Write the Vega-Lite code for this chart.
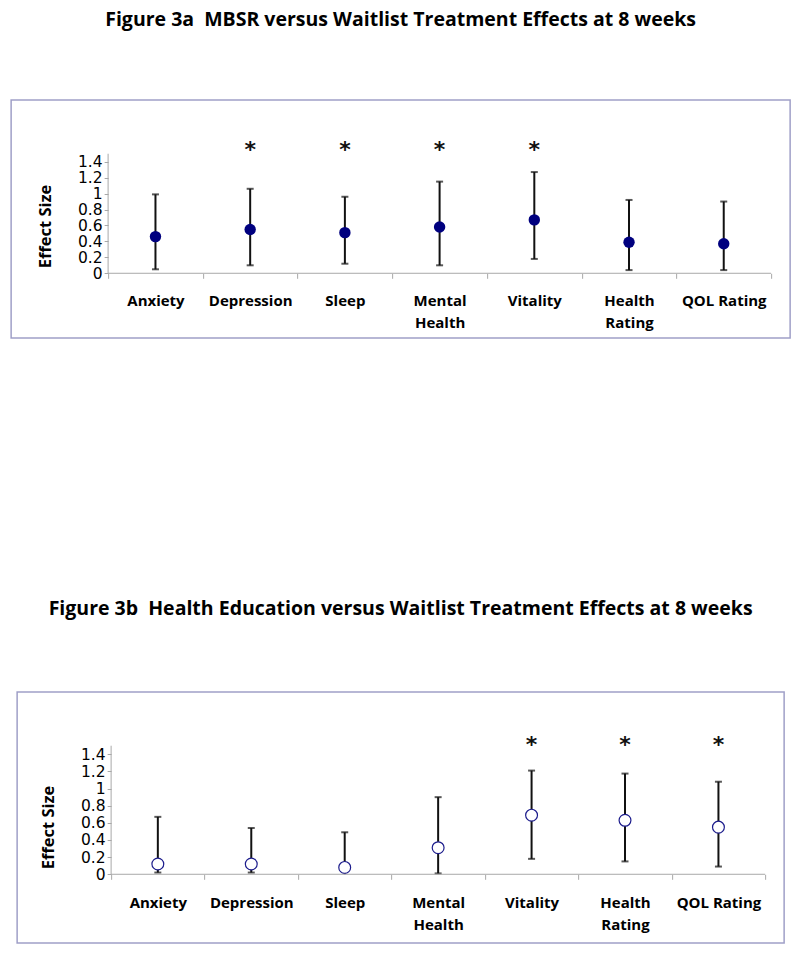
{
  "$schema": "https://vega.github.io/schema/vega-lite/v6.json",
  "background": "white",
  "padding": {"left": 10, "top": 8, "right": 5, "bottom": 5},
  "autosize": {"type": "pad"},
  "center": true,
  "spacing": 258,
  "config": {
    "view": {"stroke": "#a0a0c8", "strokeWidth": 1.5},
    "title": {"font": "Open Sans", "fontWeight": "bold", "fontSize": 19.5, "color": "black", "baseline": "alphabetic", "anchor": "middle"},
    "axis": {"grid": false, "labelOverlap": false, "labelFlush": false, "labelBound": false}
  },
  "datasets": {
    "mbsr": [
      {"cat": "Anxiety", "idx": 1, "est": 0.46, "lo": 0.05, "hi": 0.99, "sig": false},
      {"cat": "Depression", "idx": 2, "est": 0.55, "lo": 0.10, "hi": 1.06, "sig": true},
      {"cat": "Sleep", "idx": 3, "est": 0.51, "lo": 0.12, "hi": 0.96, "sig": true},
      {"cat": "Mental Health", "idx": 4, "est": 0.58, "lo": 0.10, "hi": 1.15, "sig": true},
      {"cat": "Vitality", "idx": 5, "est": 0.67, "lo": 0.18, "hi": 1.27, "sig": true},
      {"cat": "Health Rating", "idx": 6, "est": 0.39, "lo": 0.04, "hi": 0.92, "sig": false},
      {"cat": "QOL Rating", "idx": 7, "est": 0.37, "lo": 0.04, "hi": 0.90, "sig": false}
    ],
    "he": [
      {"cat": "Anxiety", "idx": 1, "est": 0.12, "lo": 0.02, "hi": 0.67, "sig": false},
      {"cat": "Depression", "idx": 2, "est": 0.12, "lo": 0.02, "hi": 0.54, "sig": false},
      {"cat": "Sleep", "idx": 3, "est": 0.08, "lo": 0.0, "hi": 0.49, "sig": false},
      {"cat": "Mental Health", "idx": 4, "est": 0.31, "lo": 0.01, "hi": 0.90, "sig": false},
      {"cat": "Vitality", "idx": 5, "est": 0.69, "lo": 0.18, "hi": 1.21, "sig": true},
      {"cat": "Health Rating", "idx": 6, "est": 0.63, "lo": 0.15, "hi": 1.175, "sig": true},
      {"cat": "QOL Rating", "idx": 7, "est": 0.55, "lo": 0.09, "hi": 1.08, "sig": true}
    ]
  },
  "vconcat": [
    {
      "width": 779,
      "height": 238,
      "title": {"text": "Figure 3a\u00a0 MBSR versus Waitlist Treatment Effects at 8 weeks", "offset": 70},
      "data": {"name": "mbsr"},
      "layer": [
        {
          "mark": {"type": "rule", "color": "#111111", "strokeWidth": 2},
          "encoding": {
            "x": {"field": "idx", "type": "quantitative",
              "scale": {"domain": [-0.524, 7.701], "nice": false, "zero": false},
              "axis": {"values": [0.5, 1, 1.5, 2, 2.5, 3, 3.5, 4, 4.5, 5, 5.5, 6, 6.5, 7, 7.5], "tickCount": 40, "domain": false, "offset": -64.7, "tickSize": 5, "tickColor": "#a8a8a8",
                "tickOpacity": {"condition": {"test": "datum.value % 1 != 0", "value": 1}, "value": 0},
                "labelExpr": "datum.value == 1 ? 'Anxiety' : datum.value == 2 ? 'Depression' : datum.value == 3 ? 'Sleep' : datum.value == 4 ? ['Mental','Health'] : datum.value == 5 ? 'Vitality' : datum.value == 6 ? ['Health','Rating'] : datum.value == 7 ? 'QOL Rating' : ''",
                "labelFont": "Open Sans", "labelFontWeight": "bold", "labelFontSize": 15, "labelColor": "black", "labelPadding": 15, "labelBaseline": "top", "labelLineHeight": 22, "labelOverlap": false, "labelFlush": false, "title": null}},
            "y": {"field": "lo", "type": "quantitative",
              "scale": {"domain": [-0.812, 2.174], "nice": false, "zero": false},
              "axis": {"values": [0, 0.2, 0.4, 0.6, 0.8, 1, 1.2, 1.4], "tickCount": 40, "format": ".1~f", "domain": false, "offset": -97, "tickSize": 4, "tickColor": "#a8a8a8",
                "labelFont": "DejaVu Sans", "labelFontSize": 15.5, "labelColor": "black", "labelPadding": 2, "labelOverlap": false, "labelFlush": false,
                "title": "Effect Size", "titleFont": "Open Sans", "titleFontWeight": "bold", "titleFontSize": 16.5, "titleColor": "black", "titlePadding": 24, "titleY": 126}},
            "y2": {"field": "hi"}
          }
        },
        {
          "transform": [{"filter": "datum.lo > 0"}],
          "mark": {"type": "tick", "orient": "horizontal", "color": "#111111", "size": 7, "thickness": 2},
          "encoding": {
            "x": {"field": "idx", "type": "quantitative"},
            "y": {"field": "lo", "type": "quantitative"}
          }
        },
        {
          "mark": {"type": "tick", "orient": "horizontal", "color": "#111111", "size": 7, "thickness": 2},
          "encoding": {
            "x": {"field": "idx", "type": "quantitative"},
            "y": {"field": "hi", "type": "quantitative"}
          }
        },
        {
          "mark": {"type": "circle", "color": "#00007f", "opacity": 1, "size": 130},
          "encoding": {
            "x": {"field": "idx", "type": "quantitative"},
            "y": {"field": "est", "type": "quantitative"}
          }
        },
        {
          "transform": [{"filter": "datum.sig"}],
          "mark": {"type": "text", "text": "*", "font": "DejaVu Sans", "fontWeight": "bold", "fontSize": 22, "color": "#111111", "baseline": "alphabetic"},
          "encoding": {
            "x": {"field": "idx", "type": "quantitative"},
            "y": {"datum": 1.46, "type": "quantitative"}
          }
        },
        {
          "data": {"values": [{}]},
          "mark": {"type": "rule", "color": "#a8a8a8", "strokeWidth": 1},
          "encoding": {
            "x": {"datum": 0.5, "type": "quantitative"},
            "y": {"datum": 0, "type": "quantitative"},
            "y2": {"datum": 1.5}
          }
        },
        {
          "data": {"values": [{}]},
          "mark": {"type": "rule", "color": "#a8a8a8", "strokeWidth": 1},
          "encoding": {
            "x": {"datum": 0.5, "type": "quantitative"},
            "x2": {"datum": 7.5},
            "y": {"datum": 0, "type": "quantitative"}
          }
        }
      ]
    },
    {
      "width": 767,
      "height": 251,
      "title": {"text": "Figure 3b\u00a0 Health Education versus Waitlist Treatment Effects at 8 weeks", "offset": 73},
      "data": {"name": "he"},
      "layer": [
        {
          "mark": {"type": "rule", "color": "#111111", "strokeWidth": 2},
          "encoding": {
            "x": {"field": "idx", "type": "quantitative",
              "scale": {"domain": [-0.506, 7.703], "nice": false, "zero": false},
              "axis": {"values": [0.5, 1, 1.5, 2, 2.5, 3, 3.5, 4, 4.5, 5, 5.5, 6, 6.5, 7, 7.5], "tickCount": 40, "domain": false, "offset": -68.7, "tickSize": 5, "tickColor": "#a8a8a8",
                "tickOpacity": {"condition": {"test": "datum.value % 1 != 0", "value": 1}, "value": 0},
                "labelExpr": "datum.value == 1 ? 'Anxiety' : datum.value == 2 ? 'Depression' : datum.value == 3 ? 'Sleep' : datum.value == 4 ? ['Mental','Health'] : datum.value == 5 ? 'Vitality' : datum.value == 6 ? ['Health','Rating'] : datum.value == 7 ? 'QOL Rating' : ''",
                "labelFont": "Open Sans", "labelFontWeight": "bold", "labelFontSize": 15, "labelColor": "black", "labelPadding": 16, "labelBaseline": "top", "labelLineHeight": 22, "labelOverlap": false, "labelFlush": false, "title": null}},
            "y": {"field": "lo", "type": "quantitative",
              "scale": {"domain": [-0.802, 2.127], "nice": false, "zero": false},
              "axis": {"values": [0, 0.2, 0.4, 0.6, 0.8, 1, 1.2, 1.4], "tickCount": 40, "format": ".1~f", "domain": false, "offset": -94, "tickSize": 4, "tickColor": "#a8a8a8",
                "labelFont": "DejaVu Sans", "labelFontSize": 15.5, "labelColor": "black", "labelPadding": 2, "labelOverlap": false, "labelFlush": false,
                "title": "Effect Size", "titleFont": "Open Sans", "titleFontWeight": "bold", "titleFontSize": 16.5, "titleColor": "black", "titlePadding": 24, "titleY": 135}},
            "y2": {"field": "hi"}
          }
        },
        {
          "transform": [{"filter": "datum.lo > 0"}],
          "mark": {"type": "tick", "orient": "horizontal", "color": "#111111", "size": 7, "thickness": 2},
          "encoding": {
            "x": {"field": "idx", "type": "quantitative"},
            "y": {"field": "lo", "type": "quantitative"}
          }
        },
        {
          "mark": {"type": "tick", "orient": "horizontal", "color": "#111111", "size": 7, "thickness": 2},
          "encoding": {
            "x": {"field": "idx", "type": "quantitative"},
            "y": {"field": "hi", "type": "quantitative"}
          }
        },
        {
          "mark": {"type": "circle", "fill": "white", "stroke": "#1c1c8c", "strokeWidth": 1.2, "opacity": 1, "size": 140},
          "encoding": {
            "x": {"field": "idx", "type": "quantitative"},
            "y": {"field": "est", "type": "quantitative"}
          }
        },
        {
          "transform": [{"filter": "datum.sig"}],
          "mark": {"type": "text", "text": "*", "font": "DejaVu Sans", "fontWeight": "bold", "fontSize": 22, "color": "#111111", "baseline": "alphabetic"},
          "encoding": {
            "x": {"field": "idx", "type": "quantitative"},
            "y": {"datum": 1.43, "type": "quantitative"}
          }
        },
        {
          "data": {"values": [{}]},
          "mark": {"type": "rule", "color": "#a8a8a8", "strokeWidth": 1},
          "encoding": {
            "x": {"datum": 0.5, "type": "quantitative"},
            "y": {"datum": 0, "type": "quantitative"},
            "y2": {"datum": 1.5}
          }
        },
        {
          "data": {"values": [{}]},
          "mark": {"type": "rule", "color": "#a8a8a8", "strokeWidth": 1},
          "encoding": {
            "x": {"datum": 0.5, "type": "quantitative"},
            "x2": {"datum": 7.5},
            "y": {"datum": 0, "type": "quantitative"}
          }
        }
      ]
    }
  ]
}
